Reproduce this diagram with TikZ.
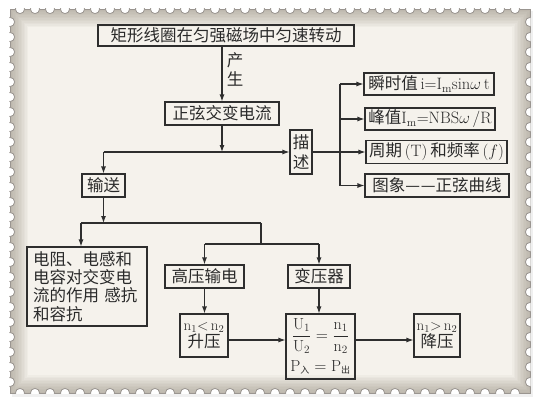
\documentclass[tikz,border=0pt]{standalone}
\usepackage{fix-cm}
\usepackage{fontspec}
\newfontfamily\cjk{Noto Sans CJK SC}
\usetikzlibrary{arrows.meta}
\definecolor{paper}{HTML}{F5F2EC}
\definecolor{edgec}{HTML}{8A7F70}
\definecolor{perf}{HTML}{9A9590}
\definecolor{linec}{HTML}{2E2E2E}
\definecolor{txt}{HTML}{2A2A2A}
\newcommand\latn[1]{{\rmfamily #1}}
\begin{document}
\begin{tikzpicture}[x=1pt,y=-1pt,
  box/.style={draw=linec, line width=1.1pt, inner sep=0pt, minimum height=23pt,
    font=\cjk\fontsize{16.5}{18.3}\selectfont, text=txt, align=center},
  arr/.style={draw=linec, line width=1.1pt, -{Latex[length=7pt,width=5pt]}},
  ln/.style={draw=linec, line width=1.1pt},
  lbl/.style={font=\cjk\fontsize{16.5}{18}\selectfont, text=txt, align=center, inner sep=0pt}]
\useasboundingbox (0,0) rectangle (540,402);
% ---- background stamp ----
\fill[white] (0,0) rectangle (540,402);
\fill[black!6] (12,11) rectangle (533,397);
\begin{scope}
  \clip (10,9) rectangle (530,393);
  \fill[paper] (10,9) rectangle (530,393);
  \foreach \w in {3,6,...,36}
    \draw[draw=edgec, opacity=0.05, line width=\w pt] (10,9) rectangle (530,393);
\end{scope}
\draw[perf, line width=0.8pt] (10,9) rectangle (530,393);
\begin{scope}
  \clip (9.4,8.4) rectangle (530.6,393.6);
  \foreach \x in {20,35,...,525} {
    \draw[perf, fill=white, line width=0.8pt] (\x,9) circle (4.6pt);
    \draw[perf, fill=white, line width=0.8pt] (\x,393) circle (4.6pt);
  }
  \foreach \y in {22,37,...,385} {
    \draw[perf, fill=white, line width=0.8pt] (10,\y) circle (4.6pt);
    \draw[perf, fill=white, line width=0.8pt] (530,\y) circle (4.6pt);
  }
\end{scope}
% ---- nodes ----
\node[box, minimum width=256pt, minimum height=21pt] (top) at (226,35.5) {矩形线圈在匀强磁场中匀速转动};
\node[lbl] (chan) at (235,69.5) {产\\[0.5pt]生};
\node[box, minimum width=114pt] (gen) at (222,113.5) {正弦交变电流};
\node[box, minimum width=22pt, minimum height=44pt, font=\cjk\fontsize{16.5}{20}\selectfont] (ms) at (301,152) {描\\述};
\node[box, minimum width=130pt, minimum height=22pt] (r1) at (429,84) {瞬时值\latn{\,i=I\textsubscript{m}sin$\omega$\,t}};
\node[box, minimum width=130pt, minimum height=22pt] (r2) at (430,119) {峰值\latn{I\textsubscript{m}=NBS$\omega$\,/R}};
\node[box, minimum width=141pt, minimum height=23pt] (r3) at (436.5,152) {周期\latn{\,(T)\,}和频率\latn{\,($f$)}};
\node[box, minimum width=144pt, minimum height=23pt] (r4) at (437,185.5) {图象—\kern1pt—正弦曲线};
\node[box, minimum width=43pt] (ss) at (103.5,185.5) {输送};
\node[box, minimum width=120pt, minimum height=79pt, text width=108pt, align=left] (lbox) at (87,286.5)
  {电阻、电感和\\电容对交变电\\流的作用\ 感抗\\和容抗};
\node[box, minimum width=79pt] (gy) at (204.5,276.5) {高压输电};
\node[box, minimum width=62pt] (byq) at (319,276.5) {变压器};
\node[box, minimum width=48pt, minimum height=43pt] (n12) at (204,335.5)
  {{\fontsize{15}{15}\selectfont$\mathrm{n_1}{<}\,\mathrm{n_2}$}\\[-1pt]升压};
\node[box, minimum width=69pt, minimum height=65pt, font=\fontsize{16}{17}\selectfont] (frac) at (320.5,346.5)
  {$\displaystyle\frac{\mathrm{U_1}}{\mathrm{U_2}}=\frac{\mathrm{n_1}}{\mathrm{n_2}}$\\[6pt]
   $\mathrm{P}_{\mbox{\cjk\fontsize{9}{9}\selectfont 入}}=\mathrm{P}_{\mbox{\cjk\fontsize{9}{9}\selectfont 出}}$};
\node[box, minimum width=46pt, minimum height=43pt] (jy) at (437,335.5)
  {{\fontsize{15}{15}\selectfont$\mathrm{n_1}{>}\,\mathrm{n_2}$}\\[-1pt]降压};
% ---- connectors ----
\coordinate (j1) at (222,152);
\coordinate (h1) at (103.5,152);
\coordinate (bus) at (340,152);
\draw[arr] (gen.north |- top.south) -- (gen.north);
\draw[arr] (gen.south) -- (j1);
\draw[ln] (h1) -- (j1);
\draw[arr] (j1) -- (ms.west);
\draw[arr] (h1) -- (ss.north);
\draw[ln] (ms.east) -- (bus);
\draw[ln] (bus |- r1.west) -- (bus |- r4.west);
\foreach \n in {r1,r2,r3,r4} \draw[arr] (bus |- \n.west) -- (\n.west);
\coordinate (j2) at (103.5,223);
\coordinate (h2L) at (81,223);
\coordinate (h2R) at (261,223);
\coordinate (h3) at (261,244);
\draw[arr] (ss.south) -- (j2);
\draw[ln] (h2L) -- (h2R);
\draw[arr] (h2L) -- (h2L |- lbox.north);
\draw[ln] (h2R) -- (h3);
\draw[ln] (gy.north |- h3) -- (byq.north |- h3);
\draw[arr] (gy.north |- h3) -- (gy.north);
\draw[arr] (byq.north |- h3) -- (byq.north);
\draw[arr] (gy.south) -- (gy.south |- n12.north);
\draw[arr] (byq.south) -- (byq.south |- frac.north);
\coordinate (m1) at (0,340);
\draw[arr] (n12.east |- m1) -- (frac.west |- m1);
\draw[arr] (frac.east |- m1) -- (jy.west |- m1);
\end{tikzpicture}
\end{document}
